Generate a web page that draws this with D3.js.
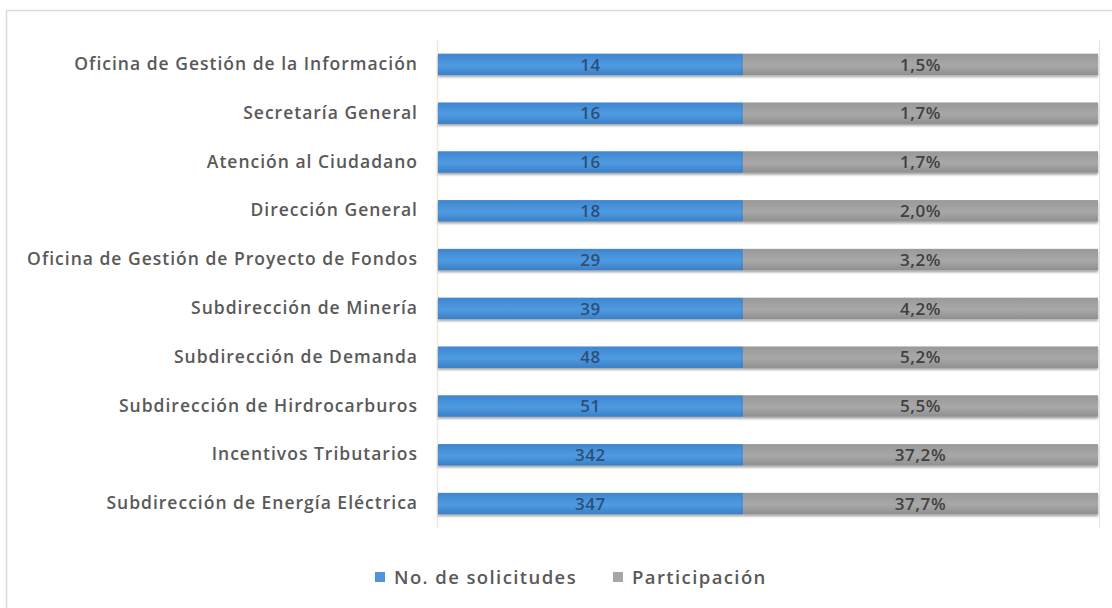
<!DOCTYPE html>
<html>
<head>
<meta charset="utf-8">
<script src="https://cdn.jsdelivr.net/npm/d3@7"></script>
<style>
  html, body { margin: 0; padding: 0; background: #fff; }
  svg { display: block; }
</style>
</head>
<body>
<svg id="chart" width="1112" height="608"></svg>
<script>
// Áreas, de arriba hacia abajo
const areas = [
  "Oficina de Gestión de la Información",
  "Secretaría General",
  "Atención al Ciudadano",
  "Dirección General",
  "Oficina de Gestión de Proyecto de Fondos",
  "Subdirección de Minería",
  "Subdirección de Demanda",
  "Subdirección de Hirdrocarburos",
  "Incentivos Tributarios",
  "Subdirección de Energía Eléctrica"
];
const solicitudes = [14, 16, 16, 18, 29, 39, 48, 51, 342, 347];
const participacion = [1.5, 1.7, 1.7, 2.0, 3.2, 4.2, 5.2, 5.5, 37.2, 37.7];
const seriesNames = ["No. de solicitudes", "Participación"];

const W = 1112, H = 608;
const plot = { left: 437, right: 1099, top: 40, bottom: 528 };
const barStart = 438, barEnd = 1098;
const textColor = "#595959";
const fontFamily = "'Open Sans', 'Noto Sans', sans-serif";

const svg = d3.select("#chart");

// gradients and soft shadow under each bar
const defs = svg.append("defs");
function gradient(id, top, mid, bottom) {
  const g = defs.append("linearGradient").attr("id", id)
    .attr("x1", 0).attr("y1", 0).attr("x2", 0).attr("y2", 1);
  g.append("stop").attr("offset", "0%").attr("stop-color", top);
  g.append("stop").attr("offset", "55%").attr("stop-color", mid);
  g.append("stop").attr("offset", "100%").attr("stop-color", bottom);
}
gradient("gBlue", "#3f86cf", "#4f9be2", "#3b7fc4");
gradient("gGray", "#999999", "#a8a8a8", "#8f8f8f");
const f = defs.append("filter").attr("id", "shadow")
  .attr("x", "-5%").attr("y", "-30%").attr("width", "110%").attr("height", "170%");
f.append("feDropShadow").attr("dx", 0).attr("dy", 2).attr("stdDeviation", 1.2)
  .attr("flood-color", "#000").attr("flood-opacity", 0.35);

// chart frame
svg.append("rect")
  .attr("x", 6.5).attr("y", 10.5)
  .attr("width", W + 20).attr("height", H + 20)
  .attr("fill", "none").attr("stroke", "#d9d9d9").attr("stroke-width", 1.5);

// scales
const y = d3.scaleBand().domain(areas).range([plot.top, plot.bottom]).paddingInner(0.56).paddingOuter(0.28);
// each series occupies its own portion of the bar length
const seriesX = d3.scaleOrdinal().domain(seriesNames).range([[0, 0.462], [0.462, 1]]);
const x = d3.scaleLinear().domain([0, 1]).range([barStart, barEnd]);

const rows = areas.map((a, i) => ({ area: a, n: solicitudes[i], p: participacion[i] }));

// category axis
const yAxis = d3.axisLeft(y).tickSize(0).tickPadding(19);
const ga = svg.append("g").attr("transform", `translate(${plot.left},0)`).call(yAxis);
ga.select(".domain").remove();
ga.selectAll("text")
  .attr("fill", textColor)
  .style("font-family", fontFamily)
  .style("font-size", "17.5px")
  .style("letter-spacing", "1px")
  .style("font-weight", "600");

// axis lines
svg.append("line")
  .attr("x1", plot.left + 0.5).attr("x2", plot.left + 0.5)
  .attr("y1", plot.top).attr("y2", plot.bottom)
  .attr("stroke", "#f0e8dc").attr("stroke-width", 1.5);
svg.append("line")
  .attr("x1", plot.right + 0.5).attr("x2", plot.right + 0.5)
  .attr("y1", plot.top).attr("y2", plot.bottom)
  .attr("stroke", "#e6e6e6").attr("stroke-width", 1);

// bars
const barGroups = svg.append("g").selectAll("g").data(rows).join("g")
  .attr("transform", d => `translate(0,${y(d.area)})`);

const segs = [
  { key: seriesNames[0], fill: "url(#gBlue)", label: d => String(d.n), labelColor: "#2c4f78" },
  { key: seriesNames[1], fill: "url(#gGray)", label: d => d.p.toFixed(1).replace(".", ",") + "%", labelColor: "#404040" }
];

segs.forEach(s => {
  const [a, b] = seriesX(s.key);
  barGroups.append("rect")
    .attr("x", x(a)).attr("width", x(b) - x(a))
    .attr("y", 0).attr("height", y.bandwidth())
    .attr("fill", s.fill)
    .attr("filter", "url(#shadow)");
});
segs.forEach(s => {
  const [a, b] = seriesX(s.key);
  barGroups.append("text")
    .attr("x", (x(a) + x(b)) / 2)
    .attr("y", y.bandwidth() / 2)
    .attr("dy", "0.36em")
    .attr("text-anchor", "middle")
    .attr("fill", s.labelColor)
    .style("font-family", fontFamily)
    .style("font-size", "17px")
    .style("letter-spacing", "0.6px")
    .style("font-weight", "600")
    .text(s.label);
});

// legend
const legend = svg.append("g").attr("transform", "translate(375,577)");
const legendItems = [
  { name: seriesNames[0], color: "#4f95dc", x: 0 },
  { name: seriesNames[1], color: "#a6a6a6", x: 238 }
];
legendItems.forEach(it => {
  legend.append("rect").attr("x", it.x).attr("y", -5).attr("width", 10).attr("height", 10).attr("fill", it.color);
  legend.append("text").attr("x", it.x + 19).attr("y", 0).attr("dy", "0.36em")
    .attr("fill", textColor)
    .style("font-family", fontFamily)
    .style("font-size", "18.5px")
    .style("letter-spacing", "1.4px")
    .style("font-weight", "600")
    .text(it.name);
});
</script>
</body>
</html>
